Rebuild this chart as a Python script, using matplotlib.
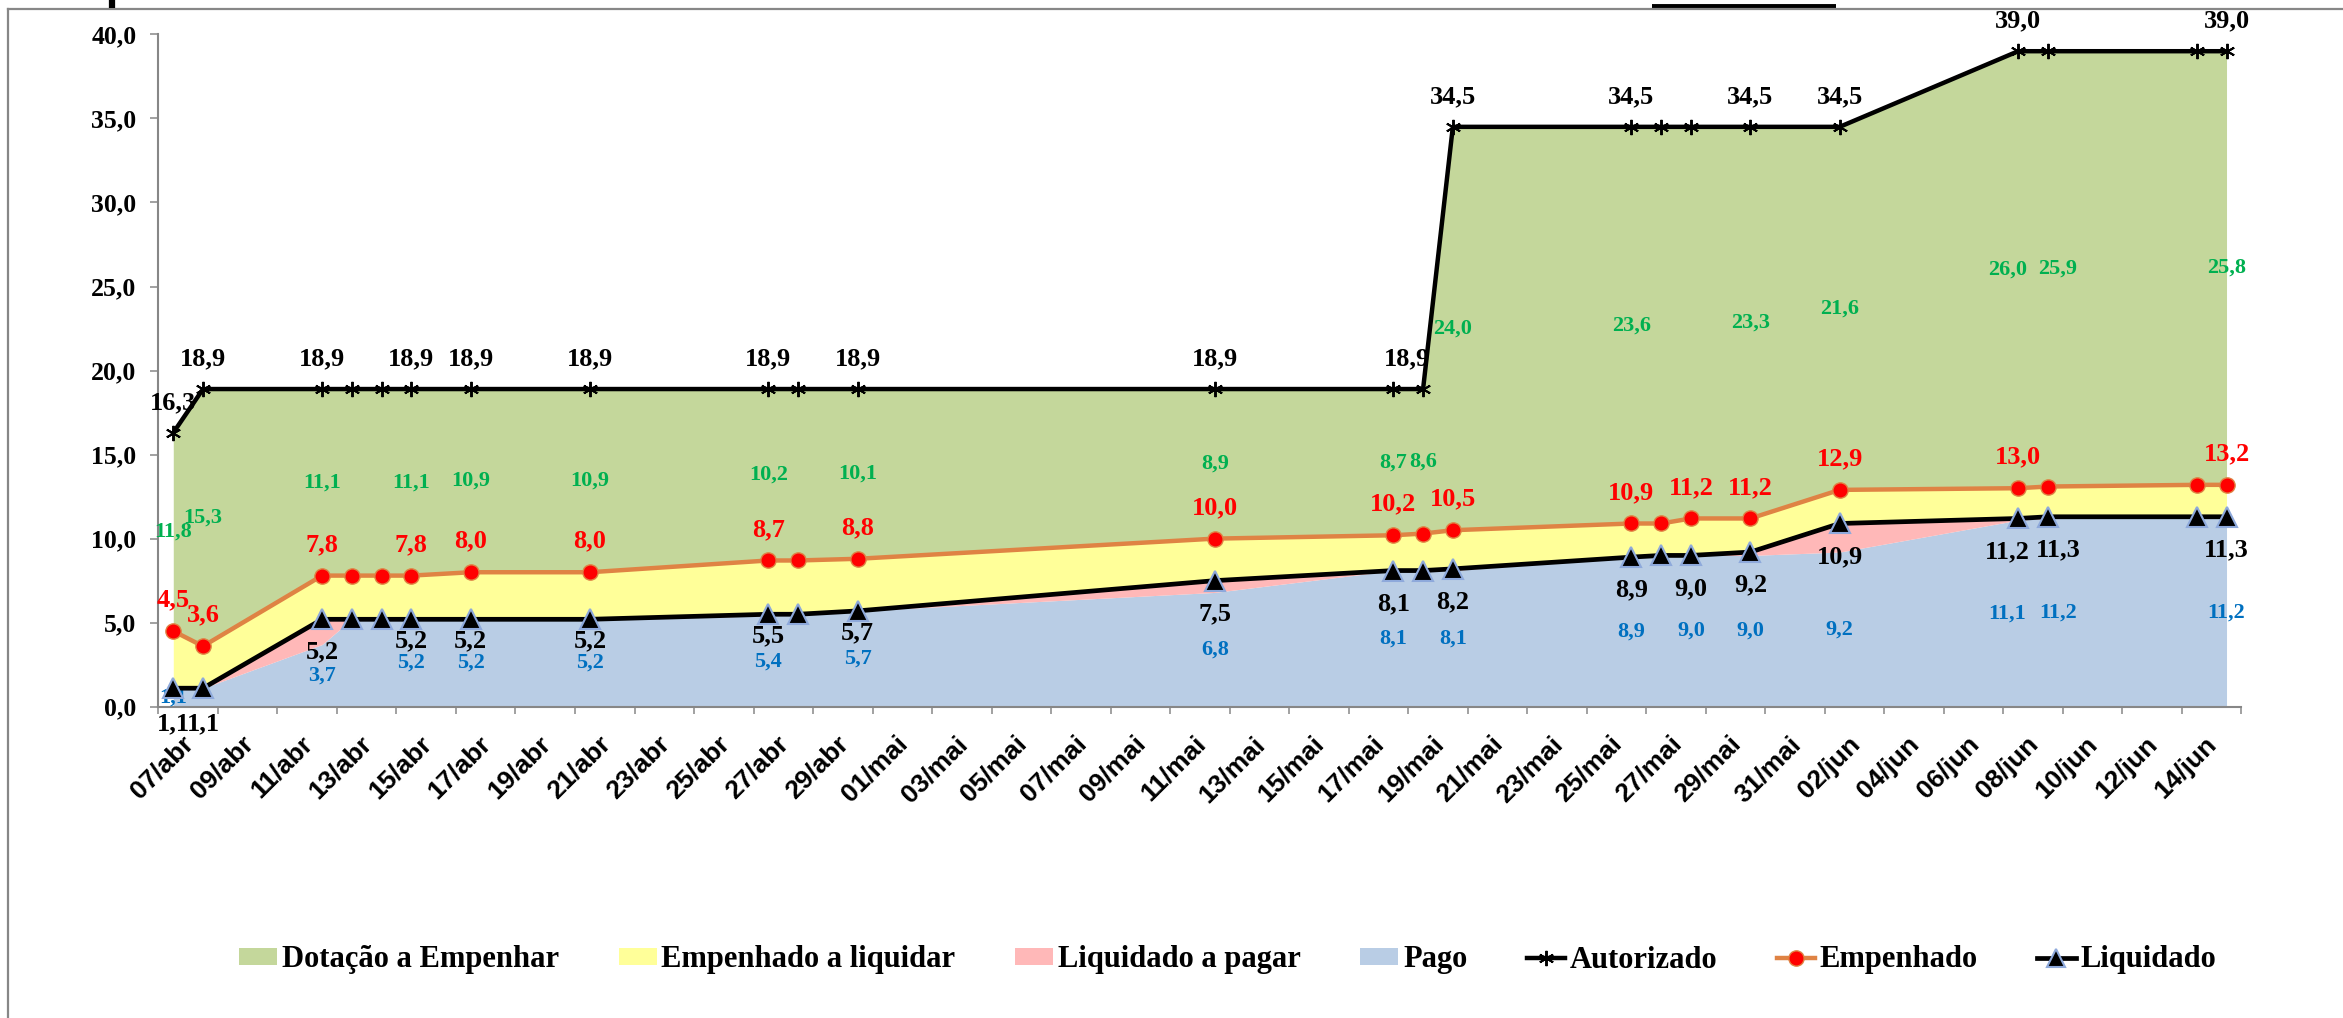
import datetime as dt
import matplotlib
matplotlib.use("Agg")
import matplotlib.pyplot as plt
import matplotlib.dates as mdates
import matplotlib.transforms as mtransforms
from matplotlib.lines import Line2D
from matplotlib.patches import Patch
import pandas as pd

# ---------------- data ----------------
ano = 2021
datas = ["07/04", "08/04", "12/04", "13/04", "14/04", "15/04", "17/04", "21/04",
         "27/04", "28/04", "30/04", "12/05", "18/05", "19/05", "20/05", "26/05",
         "27/05", "28/05", "30/05", "02/06", "08/06", "09/06", "14/06", "15/06"]
autorizado = [16.3, 18.9, 18.9, 18.9, 18.9, 18.9, 18.9, 18.9, 18.9, 18.9, 18.9, 18.9,
              18.9, 18.9, 34.5, 34.5, 34.5, 34.5, 34.5, 34.5, 39.0, 39.0, 39.0, 39.0]
empenhado = [4.5, 3.6, 7.8, 7.8, 7.8, 7.8, 8.0, 8.0, 8.7, 8.7, 8.8, 10.0,
             10.2, 10.3, 10.5, 10.9, 10.9, 11.2, 11.2, 12.9, 13.0, 13.1, 13.2, 13.2]
liquidado = [1.1, 1.1, 5.2, 5.2, 5.2, 5.2, 5.2, 5.2, 5.5, 5.5, 5.7, 7.5,
             8.1, 8.1, 8.2, 8.9, 9.0, 9.0, 9.2, 10.9, 11.2, 11.3, 11.3, 11.3]
pago = [1.1, 1.1, 3.7, 5.2, 5.2, 5.2, 5.2, 5.2, 5.4, 5.5, 5.7, 6.8,
        8.1, 8.1, 8.1, 8.9, 9.0, 9.0, 9.0, 9.2, 11.1, 11.2, 11.2, 11.2]

# dates whose values carry a data label
rot_autorizado = ["07/04", "08/04", "12/04", "15/04", "17/04", "21/04", "27/04", "30/04",
                  "12/05", "19/05", "20/05", "26/05", "30/05", "02/06", "08/06", "15/06"]
rot_empenhado = ["07/04", "08/04", "12/04", "15/04", "17/04", "21/04", "27/04", "30/04",
                 "12/05", "18/05", "20/05", "26/05", "28/05", "30/05", "02/06", "08/06", "15/06"]
rot_liquidado = ["07/04", "08/04", "12/04", "15/04", "17/04", "21/04", "27/04", "30/04",
                 "12/05", "18/05", "20/05", "26/05", "28/05", "30/05", "02/06", "08/06",
                 "09/06", "15/06"]
rot_dotacao = ["07/04", "08/04", "12/04", "15/04", "17/04", "21/04", "27/04", "30/04",
               "12/05", "18/05", "19/05", "20/05", "26/05", "30/05", "02/06", "08/06",
               "09/06", "15/06"]
rot_pago = ["07/04", "12/04", "15/04", "17/04", "21/04", "27/04", "30/04", "12/05",
            "18/05", "20/05", "26/05", "28/05", "30/05", "02/06", "08/06", "09/06", "15/06"]

meses = {4: "abr", 5: "mai", 6: "jun"}
primeiro_rotulo = "07/04"
ultimo_rotulo = "14/06"

series_nomes = ["Dotação a Empenhar", "Empenhado a liquidar", "Liquidado a pagar", "Pago",
                "Autorizado", "Empenhado", "Liquidado"]

# ---------------- style ----------------
C_GREEN = "#C4D79B"
C_YELLOW = "#FFFF99"
C_PINK = "#FFB8B8"
C_BLUE = "#B9CDE5"
C_ORANGE = "#DF8344"
C_TRI_EDGE = "#8EA9DB"
C_GRAY = "#878787"
SERIF = "Liberation Serif"
SANS = "Liberation Sans"

W, H = 2343, 1018
fig = plt.figure(figsize=(W / 100, H / 100), dpi=100)
ax = fig.add_axes([158.4 / W, 1 - 706.7 / H, (2241.4 - 158.4) / W, (706.7 - 34.4) / H])


def to_date(s):
    d, m = s.split("/")
    return dt.datetime(ano, int(m), int(d))


x = [to_date(s) for s in datas]
xn = mdates.date2num(x)
idx = {s: i for i, s in enumerate(datas)}


def fmt(v):
    return f"{v:.1f}".replace(".", ",")


# areas
ax.fill_between(xn, 0, pago, color=C_BLUE, lw=0, zorder=1)
ax.fill_between(xn, pago, liquidado, color=C_PINK, lw=0, zorder=1)
ax.fill_between(xn, liquidado, empenhado, color=C_YELLOW, lw=0, zorder=1)
ax.fill_between(xn, empenhado, autorizado, color=C_GREEN, lw=0, zorder=1)

# lines
star = (6, 2, 0)
ax.plot(xn, autorizado, color="black", lw=3.2, marker=star, ms=11, mew=1.4,
        mec="black", zorder=4)
ax.plot(xn, empenhado, color=C_ORANGE, lw=3.2, marker="o", ms=11, mfc="#FF0000",
        mec=C_ORANGE, mew=1.0, zorder=5)
ax.plot(xn, liquidado, color="black", lw=3.4, marker="^", ms=14, mfc="black",
        mec=C_TRI_EDGE, mew=1.5, zorder=6)

lbl_big = dict(family=SERIF, weight="bold", size=19)
lbl_small = dict(family=SERIF, weight="bold", size=16)

# horizontal nudges used where neighbouring labels would collide
nudge = {"08/06": -11, "09/06": 10}


def lab(s, y, txt, dx, dy, color, props, z=3):
    ax.annotate(txt, (xn[idx[s]], y), xytext=(dx, dy), textcoords="offset pixels",
                ha="center", va="center", color=color, zorder=z, **props)


for s in rot_autorizado:
    i = idx[s]
    dx = -16 if s == "19/05" else 0
    lab(s, autorizado[i], fmt(autorizado[i]), dx, 30, "black", lbl_big)

for s in rot_empenhado:
    i = idx[s]
    lab(s, empenhado[i], fmt(empenhado[i]), 0, 31, "#FF0000", lbl_big, z=7)

upper_black = {"15/04", "17/04", "21/04", "27/04", "30/04"}
for s in rot_liquidado:
    i = idx[s]
    dy = -22 if s in upper_black else -33
    if s in ("07/04", "08/04"):
        dy = -36
    lab(s, liquidado[i], fmt(liquidado[i]), nudge.get(s, 0), dy, "black", lbl_big, z=7)

for s in rot_dotacao:
    i = idx[s]
    lab(s, (empenhado[i] + autorizado[i]) / 2, fmt(round(autorizado[i] - empenhado[i], 1)),
        nudge.get(s, 0), 0, "#00B050", lbl_small)

for s in rot_pago:
    i = idx[s]
    lab(s, pago[i] / 2, fmt(pago[i]), nudge.get(s, 0), 0, "#0070C0", lbl_small)

# axes
x0 = mdates.date2num(to_date(primeiro_rotulo))
x_last = xn[-1]
ax.set_xlim(x0 - 0.5, x_last + 0.5)
ax.set_ylim(0, 40)

yt = [0, 5, 10, 15, 20, 25, 30, 35, 40]
ax.set_yticks(yt)
ax.set_yticklabels([fmt(v) for v in yt], fontfamily=SERIF, fontweight="bold", fontsize=18.5)
ax.tick_params(axis="y", direction="out", length=5.8, width=1.1, color=C_GRAY, pad=10)

tick_dates = pd.date_range(to_date(primeiro_rotulo), to_date(ultimo_rotulo), freq="2D")
tick_pos = mdates.date2num(tick_dates.to_pydatetime())
ax.set_xticks(tick_pos)
ax.set_xticklabels([f"{d.day:02d}/{meses[d.month]}" for d in tick_dates],
                   rotation=45, ha="right", va="top", rotation_mode="anchor",
                   fontfamily=SANS, fontweight="bold", fontsize=19)
ax.tick_params(axis="x", which="major", length=0, pad=18)
shift = mtransforms.ScaledTranslation(8 / 100, 0, fig.dpi_scale_trans)
for t in ax.get_xticklabels():
    t.set_transform(t.get_transform() + shift)
minor_pos = list(tick_pos - 0.5) + [x_last + 0.5]
ax.set_xticks(minor_pos, minor=True)
ax.tick_params(axis="x", which="minor", direction="out", length=5.2, width=1.1, color=C_GRAY)

for side in ("top", "right"):
    ax.spines[side].set_visible(False)
for side in ("left", "bottom"):
    ax.spines[side].set_color(C_GRAY)
    ax.spines[side].set_linewidth(1.5)
ax.set_facecolor("none")

# legend
handles = [
    Patch(facecolor=C_GREEN, edgecolor="none"),
    Patch(facecolor=C_YELLOW, edgecolor="none"),
    Patch(facecolor=C_PINK, edgecolor="none"),
    Patch(facecolor=C_BLUE, edgecolor="none"),
    Line2D([], [], color="black", lw=3.2, marker=star, ms=11, mew=1.4, mec="black"),
    Line2D([], [], color=C_ORANGE, lw=3.2, marker="o", ms=11, mfc="#FF0000", mec=C_ORANGE),
    Line2D([], [], color="black", lw=3.4, marker="^", ms=13, mfc="black", mec=C_TRI_EDGE, mew=1.5),
]
fig.legend(handles, series_nomes, loc="center", bbox_to_anchor=(1227.5 / W, 1 - 960 / H), ncol=7,
           frameon=False, prop=dict(family=SERIF, weight="bold", size=22),
           handlelength=1.25, handleheight=0.5, handletextpad=0.15, columnspacing=1.95,
           borderaxespad=0, borderpad=0)

# frame and cut-off fragments at the top
fig.add_artist(Line2D([8 / W, 8 / W], [0, 1 - 9 / H], transform=fig.transFigure,
                      color=C_GRAY, lw=1.6))
fig.add_artist(Line2D([8 / W, 1], [1 - 9 / H, 1 - 9 / H], transform=fig.transFigure,
                      color=C_GRAY, lw=1.6))
fig.add_artist(Line2D([111.5 / W, 111.5 / W], [1, 1 - 8 / H], transform=fig.transFigure,
                      color="black", lw=4.5, solid_capstyle="butt"))
fig.add_artist(Line2D([1652 / W, 1836 / W], [1 - 5.5 / H, 1 - 5.5 / H], transform=fig.transFigure,
                      color="black", lw=2.8, solid_capstyle="butt"))

fig.savefig("out.png", dpi=100, facecolor="white")
